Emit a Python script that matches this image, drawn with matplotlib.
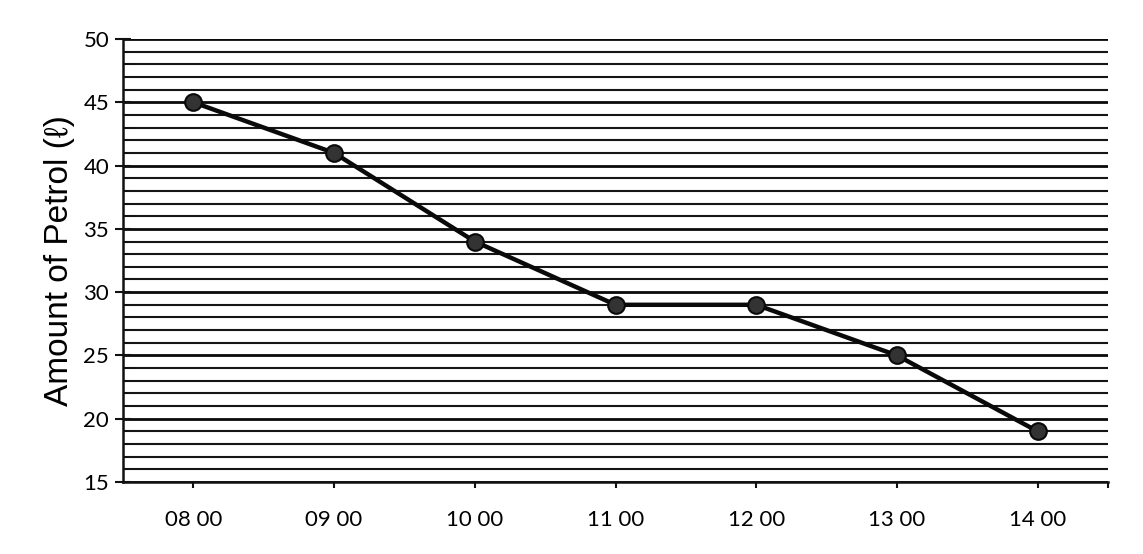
import numpy as np
import matplotlib.pyplot as plt
from matplotlib.ticker import MultipleLocator, FixedLocator

# Data
times = ['08 00', '09 00', '10 00', '11 00', '12 00', '13 00', '14 00']
petrol = [45, 41, 34, 29, 29, 25, 19]

x = np.arange(len(times))

fig = plt.figure(figsize=(11.43, 5.54), dpi=100)
ax = fig.add_axes([0.1076, 0.130, 0.8618, 0.7996])

# horizontal grid every litre
ax.set_ylim(15, 50)
ax.set_xlim(-0.5, len(times) - 0.5)
ax.yaxis.set_major_locator(MultipleLocator(5))
ax.yaxis.set_minor_locator(MultipleLocator(1))
ax.grid(True, axis='y', which='both', color='#151515', linewidth=1.5)
ax.grid(True, axis='y', which='major', color='#0a0a0a', linewidth=2.0)
ax.set_axisbelow(True)

# the line with markers
ax.plot(x, petrol, color='#0a0a0a', linewidth=3.2, marker='o', markersize=12,
        markerfacecolor='#333333', markeredgecolor='#0a0a0a', markeredgewidth=1.5,
        zorder=5)

ax.set_xticks(x)
ax.set_xticklabels(times, family='Lato', fontsize=16)
ax.xaxis.set_minor_locator(FixedLocator([len(times) - 0.5]))
ax.tick_params(axis='x', which='both', direction='out', length=4, width=1.5,
               color='#111111', pad=16)
ax.tick_params(axis='y', which='major', direction='inout', length=12, width=1.5,
               color='#111111', pad=4)
ax.tick_params(axis='y', which='minor', direction='in', length=4, width=1.2,
               color='#111111')
for lbl in ax.get_yticklabels():
    lbl.set_family('Lato')
    lbl.set_fontsize(16)

ax.set_ylabel('Amount of Petrol (ℓ)', family=['Liberation Sans', 'DejaVu Sans'],
              fontsize=24, labelpad=6)

for side in ['top', 'right']:
    ax.spines[side].set_visible(False)
ax.spines['left'].set_linewidth(1.8)
ax.spines['bottom'].set_linewidth(1.8)
ax.spines['left'].set_color('#111111')
ax.spines['bottom'].set_color('#111111')

fig.savefig('out.png', dpi=100)
